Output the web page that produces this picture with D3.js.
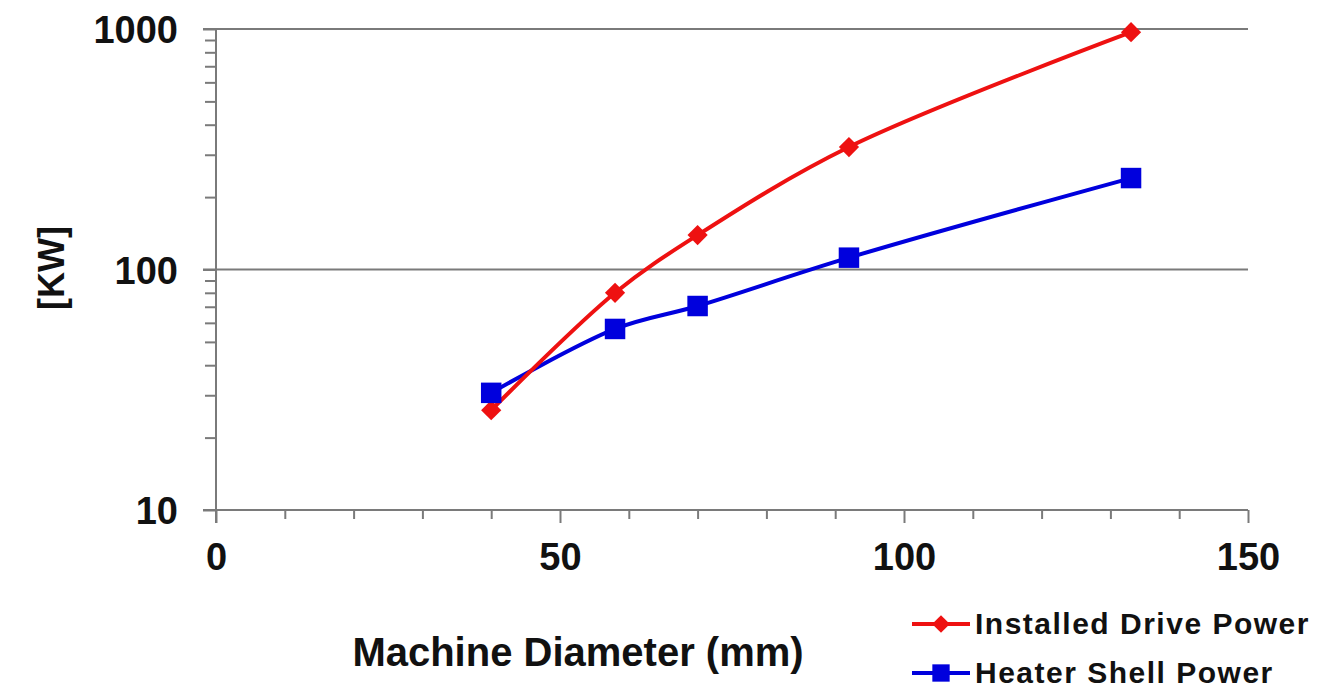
<!DOCTYPE html>
<html>
<head>
<meta charset="utf-8">
<script src="https://cdn.jsdelivr.net/npm/d3@7"></script>
<style>
  html, body { margin: 0; padding: 0; background: #fff; }
  svg { display: block; }
  text { font-family: "Liberation Sans", Arial, sans-serif; font-weight: bold; fill: #111; }
</style>
</head>
<body>
<svg id="chart" width="1342" height="691"></svg>
<script>
// ---- data ----
const diameters = [40, 58, 70, 92, 133];
const installedDrivePower = [26, 80, 139, 323, 970];
const heaterShellPower = [30.7, 56.6, 70.5, 112, 240];
const seriesNames = ["Installed Drive Power", "Heater Shell Power"];
const seriesColors = ["#ee1111", "#0000dd"];
const xMajorTicks = [0, 50, 100, 150];
const xMinorTicks = [10, 20, 30, 40, 60, 70, 80, 90, 110, 120, 130, 140];
const yMajorTicks = [10, 100, 1000];
const yMinorTicks = [20, 30, 40, 50, 60, 70, 80, 90, 200, 300, 400, 500, 600, 700, 800, 900];
const xTitle = "Machine Diameter (mm)";
const yTitle = "[KW]";

const svg = d3.select("#chart");
const x = d3.scaleLinear().domain([0, 150]).range([216, 1248]);
const y = d3.scaleLog().domain([10, 1000]).range([510, 29]);
const axisColor = "#7a7a7a";

// gridlines
svg.append("g").selectAll("line").data([100, 1000]).join("line")
  .attr("x1", x(0) - 13).attr("x2", x(150))
  .attr("y1", d => y(d)).attr("y2", d => y(d))
  .attr("stroke", axisColor).attr("stroke-width", 2);

// x axis
const xAxisMinor = d3.axisBottom(x).tickValues(xMinorTicks).tickSize(9).tickFormat("");
const xAxisMajor = d3.axisBottom(x).tickValues(xMajorTicks).tickSize(13).tickPadding(20).tickFormat(d3.format("d"));
const gxMinor = svg.append("g").attr("transform", `translate(0,${y(10)})`).call(xAxisMinor);
const gxMajor = svg.append("g").attr("transform", `translate(0,${y(10)})`).call(xAxisMajor);
[gxMinor, gxMajor].forEach(g => {
  g.select(".domain").remove();
  g.selectAll(".tick line").attr("stroke", axisColor).attr("stroke-width", 2);
});
gxMajor.selectAll(".tick text").attr("font-size", 38).attr("font-family", "Liberation Sans, Arial, sans-serif").attr("font-weight", "bold").attr("fill", "#111");
svg.append("line").attr("x1", x(0) - 13).attr("x2", x(150)).attr("y1", y(10)).attr("y2", y(10))
  .attr("stroke", axisColor).attr("stroke-width", 2);

// y axis
const yAxisMinor = d3.axisLeft(y).tickValues(yMinorTicks).tickSize(11).tickFormat("");
const yAxisMajor = d3.axisLeft(y).tickValues(yMajorTicks).tickSize(13).tickPadding(25).tickFormat(d3.format("d"));
const gyMinor = svg.append("g").attr("transform", `translate(${x(0)},0)`).call(yAxisMinor);
const gyMajor = svg.append("g").attr("transform", `translate(${x(0)},0)`).call(yAxisMajor);
[gyMinor, gyMajor].forEach(g => {
  g.select(".domain").remove();
  g.selectAll(".tick line").attr("stroke", axisColor).attr("stroke-width", 2);
});
gyMajor.selectAll(".tick text").attr("font-size", 38).attr("font-family", "Liberation Sans, Arial, sans-serif").attr("font-weight", "bold").attr("fill", "#111").attr("dy", "0.36em");
svg.append("line").attr("x1", x(0)).attr("x2", x(0)).attr("y1", y(1000)).attr("y2", y(10) + 13)
  .attr("stroke", axisColor).attr("stroke-width", 2);

// titles
svg.append("text").attr("x", 578).attr("y", 666).attr("text-anchor", "middle")
  .attr("font-size", 40).text(xTitle);
svg.append("text").attr("transform", "translate(64,268) rotate(-90)").attr("text-anchor", "middle")
  .attr("font-size", 36).text(yTitle);

// lines
const series = [installedDrivePower, heaterShellPower];
const line = d3.line().x(d => x(d[0])).y(d => y(d[1])).curve(d3.curveCatmullRom.alpha(0.5));
const diamond = d3.symbol().type(d3.symbolDiamond2).size(260);
const square = d3.symbol().type(d3.symbolSquare).size(420);

series.slice().reverse().forEach((vals, ri) => {
  const i = series.length - 1 - ri;
  const pts = diameters.map((d, k) => [d, vals[k]]);
  svg.append("path").attr("d", line(pts)).attr("fill", "none")
    .attr("stroke", seriesColors[i]).attr("stroke-width", 4);
});
series.forEach((vals, i) => {
  const pts = diameters.map((d, k) => [d, vals[k]]);
  svg.append("g").selectAll("path").data(pts).join("path")
    .attr("transform", d => `translate(${x(d[0])},${y(d[1])})`)
    .attr("d", i === 0 ? diamond : square)
    .attr("fill", seriesColors[i]);
});

// legend
const legY = [624, 673];
seriesNames.forEach((name, i) => {
  const g = svg.append("g");
  g.append("line").attr("x1", 912).attr("x2", 970).attr("y1", legY[i]).attr("y2", legY[i])
    .attr("stroke", seriesColors[i]).attr("stroke-width", 4);
  g.append("path").attr("transform", `translate(941,${legY[i]})`)
    .attr("d", i === 0 ? d3.symbol().type(d3.symbolDiamond2).size(200)() : d3.symbol().type(d3.symbolSquare).size(300)())
    .attr("fill", seriesColors[i]);
  g.append("text").attr("x", 975).attr("y", legY[i] + 10).attr("font-size", 30)
    .attr("letter-spacing", 1.5).text(name);
});
</script>
</body>
</html>
